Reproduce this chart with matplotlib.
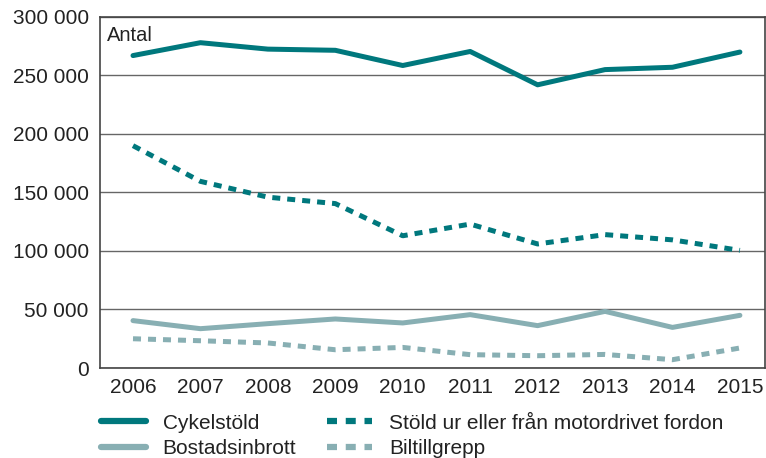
import matplotlib
matplotlib.use('Agg')
import matplotlib.pyplot as plt
from matplotlib.ticker import FuncFormatter

plt.rcParams['font.family'] = ['Liberation Sans', 'DejaVu Sans']

years = [2006, 2007, 2008, 2009, 2010, 2011, 2012, 2013, 2014, 2015]
cykelstold = [267000, 278000, 272500, 271500, 258500, 270500, 242000, 255000, 257000, 270000]
stold_fordon = [190000, 159500, 146000, 140500, 113000, 123000, 106000, 114000, 109500, 100500]
bostadsinbrott = [40500, 33600, 37900, 41900, 38500, 45600, 36200, 48400, 34700, 45000]
biltillgrepp = [25000, 23300, 21400, 15600, 17600, 11400, 10500, 11600, 7100, 17100]

DARK = '#00787D'
LIGHT = '#88AFB3'

fig = plt.figure(figsize=(7.66, 4.58), dpi=100)
ax = fig.add_axes([0.1305, 0.1965, 0.868, 0.7665])

dots = (0, (1.6, 1.4))
ax.plot(years, cykelstold, color=DARK, lw=3.6, solid_capstyle='round', label='Cykelstöld', zorder=3)
ax.plot(years, bostadsinbrott, color=LIGHT, lw=3.6, solid_capstyle='round', label='Bostadsinbrott', zorder=3)
ax.plot(years, stold_fordon, color=DARK, lw=3.6, linestyle=dots, dash_capstyle='butt',
        label='Stöld ur eller från motordrivet fordon', zorder=3)
ax.plot(years, biltillgrepp, color=LIGHT, lw=3.6, linestyle=dots, dash_capstyle='butt',
        label='Biltillgrepp', zorder=3)

ax.set_xlim(2005.51, 2015.37)
ax.set_ylim(0, 300000)
ax.set_xticks(years)
ax.set_yticks(range(0, 300001, 50000))
ax.yaxis.set_major_formatter(FuncFormatter(lambda v, p: f'{int(v):,}'.replace(',', ' ')))
ax.tick_params(axis='both', length=0, labelsize=15, colors='#222222')
ax.tick_params(axis='y', pad=8)
ax.tick_params(axis='x', pad=7)
ax.grid(axis='y', color='#666666', lw=1.0)
ax.set_axisbelow(True)
for s in ax.spines.values():
    s.set_color('#444444')
    s.set_linewidth(1.2)

ax.text(0.011, 0.975, 'Antal', transform=ax.transAxes, ha='left', va='top',
        fontsize=14.5, color='#222222')

handles, labels = ax.get_legend_handles_labels()
leg = fig.legend(handles, labels,
                 ncol=2, loc='upper left', bbox_to_anchor=(0.132, 0.097),
                 frameon=False, fontsize=15, handlelength=2.15, handletextpad=0.8,
                 columnspacing=1.5, labelspacing=0.3, borderpad=0, borderaxespad=0)
for t in leg.get_texts():
    t.set_color('#222222')
for h in leg.get_lines():
    h.set_linewidth(4.5)

fig.savefig('out.png', dpi=100, facecolor='white')
